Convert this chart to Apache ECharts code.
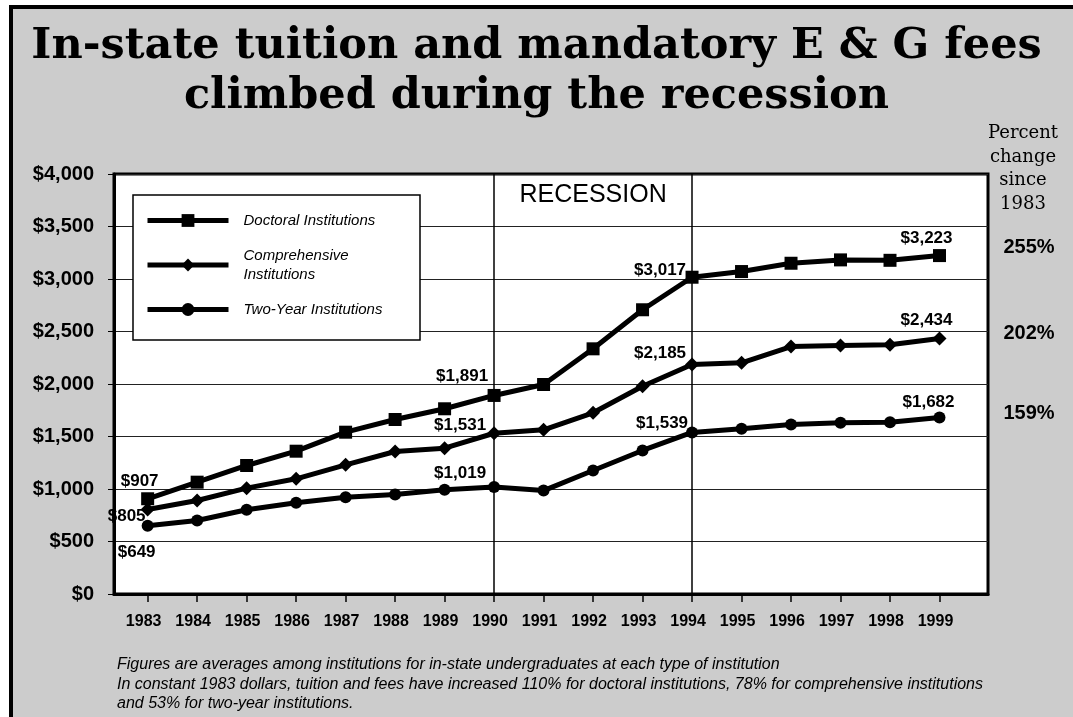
<!DOCTYPE html>
<html>
<head>
<meta charset="utf-8">
<style>
  html, body { margin: 0; padding: 0; background: #fff; }
  #frame { position: absolute; left: 9px; top: 5px; width: 1070px; height: 720px;
           background: #cccccc; border-left: 4px solid #000; border-top: 4px solid #000; }
  #chart { position: absolute; left: 0; top: 0; width: 1073px; height: 717px; }
</style>
<script src="https://cdn.jsdelivr.net/npm/echarts@6/dist/echarts.min.js"></script>
</head>
<body>
<div id="frame"></div>
<div id="chart"></div>
<script>
// Average in-state tuition and mandatory E & G fees, current dollars
const years = [1983, 1984, 1985, 1986, 1987, 1988, 1989, 1990, 1991,
               1992, 1993, 1994, 1995, 1996, 1997, 1998, 1999];
const doctoral      = [907, 1065, 1224, 1360, 1541, 1662, 1764, 1891, 1995,
                       2335, 2707, 3017, 3071, 3150, 3182, 3178, 3223];
const comprehensive = [805, 890, 1008, 1097, 1230, 1357, 1389, 1531, 1564,
                       1726, 1979, 2185, 2202, 2357, 2367, 2373, 2434];
const twoYear       = [649, 700, 802, 869, 922, 948, 992, 1019, 985,
                       1176, 1367, 1539, 1573, 1614, 1630, 1636, 1682];
const seriesNames = ['Doctoral Institutions', 'Comprehensive Institutions', 'Two-Year Institutions'];
const labeledYears = [1983, 1990, 1994, 1999];
const recessionYears = [1990, 1994];
const recessionLabel = 'RECESSION';
const titleText = 'In-state tuition and mandatory E & G fees\nclimbed during the recession';
const sideHeader = 'Percent\nchange\nsince\n1983';
const notes = 'Figures are averages among institutions for in-state undergraduates at each type of institution\n' +
  'In constant 1983 dollars, tuition and fees have increased 110% for doctoral institutions, 78% for comprehensive institutions\n' +
  'and 53% for two-year institutions.';

const SANS = 'Liberation Sans, Arial, sans-serif';
const SERIF = 'DejaVu Serif, serif';

// label placement for the annotated points (relative to a 'top' label)
const labelOffsets = [
  [[-8, 3], [-32, 1], [-32, 13], [-13, 3]],
  [[-21, 27], [-34, 13], [-32, 9], [-13, 2]],
  [[-11, 46], [-34, 6], [-30, 10], [-11, 4]]
];
const endOffsets = [[56, -8], [56, -5], [56, -4]];
const symbols = [['rect', 13], ['diamond', 14], ['circle', 12]];

function money(v) { return '$' + Math.round(v).toLocaleString('en-US'); }

function buildData(values, si) {
  return values.map(function (v, i) {
    const item = { value: [years[i], v] };
    const k = labeledYears.indexOf(years[i]);
    if (k >= 0) {
      item.label = { show: true, position: 'top', offset: labelOffsets[si][k],
                     formatter: money(v) };
    }
    return item;
  });
}

const allValues = [doctoral, comprehensive, twoYear];

const series = allValues.map(function (vals, si) {
  const s = {
    name: seriesNames[si],
    type: 'line',
    data: buildData(vals, si),
    symbol: symbols[si][0],
    symbolSize: symbols[si][1],
    showAllSymbol: true,
    lineStyle: { color: '#000', width: 5 },
    itemStyle: { color: '#000' },
    label: { show: false, color: '#000', fontFamily: SANS, fontWeight: 'bold', fontSize: 17 },
    endLabel: {
      show: true,
      offset: endOffsets[si],
      color: '#000', fontFamily: SANS, fontWeight: 'bold', fontSize: 20,
      formatter: function () {
        const first = vals[0], last = vals[vals.length - 1];
        return Math.round((last - first) / first * 100) + '%';
      }
    },
    z: 5
  };
  if (si === 0) {
    s.markLine = {
      silent: true, symbol: 'none', label: { show: false },
      lineStyle: { color: '#000', width: 1.5, type: 'solid' },
      data: recessionYears.map(function (y) { return { xAxis: y }; }),
      z: 1
    };
    s.markArea = {
      silent: true,
      itemStyle: { color: 'rgba(0,0,0,0)' },
      label: { show: true, position: 'insideTop', distance: 9, color: '#000',
               fontFamily: SANS, fontSize: 25 },
      data: [[{ xAxis: recessionYears[0], name: recessionLabel }, { xAxis: recessionYears[1] }]]
    };
  }
  return s;
});

const chart = echarts.init(document.getElementById('chart'), null, { renderer: 'canvas' });
chart.setOption({
  animation: false,
  backgroundColor: 'transparent',
  title: {
    text: titleText,
    left: 'center', top: 17,
    textStyle: { fontFamily: SERIF, fontWeight: 'bold', fontSize: 43, lineHeight: 50, color: '#000' }
  },
  grid: {
    left: 114, right: 85, top: 174, bottom: 123,
    show: true, backgroundColor: '#fff', borderColor: '#000', borderWidth: 3
  },
  legend: {
    orient: 'vertical', left: 145, top: 211, padding: 0,
    itemWidth: 81, itemHeight: 16, itemGap: 16,
    data: seriesNames,
    lineStyle: { width: 5, color: '#000' },
    itemStyle: { color: '#000' },
    formatter: function (n) { return n.replace('Comprehensive ', 'Comprehensive\n'); },
    textStyle: { fontFamily: SANS, fontStyle: 'italic', fontSize: 15, lineHeight: 19,
                 color: '#000', padding: [0, 0, 0, 10] },
    z: 6
  },
  xAxis: {
    type: 'value', min: 1982.32, max: 1999.98,
    splitLine: { show: false },
    axisLine: { show: true, lineStyle: { color: '#000', width: 3 } },
    axisTick: { show: true, customValues: years, length: 8, lineStyle: { color: '#000', width: 1.5 } },
    axisLabel: { customValues: years, formatter: function (v) { return String(v); },
                 margin: 20, padding: [0, 8, 0, 0],
                 color: '#000', fontFamily: SANS, fontWeight: 'bold', fontSize: 16 }
  },
  yAxis: {
    type: 'value', min: 0, max: 4000, interval: 500,
    splitLine: { show: true, lineStyle: { color: '#222', width: 1 } },
    axisLine: { show: true, lineStyle: { color: '#000', width: 3 } },
    axisTick: { show: true, length: 6, lineStyle: { color: '#000', width: 1 } },
    axisLabel: { formatter: money, margin: 20, padding: [8, 0, 0, 0],
                 color: '#000', fontFamily: SANS, fontWeight: 'bold', fontSize: 20 }
  },
  graphic: [
    { type: 'rect', z: 3, silent: true,
      shape: { x: 133, y: 195, width: 287, height: 145 },
      style: { fill: '#fff', stroke: '#000', lineWidth: 1.5 } },
    { type: 'text', x: 1023, y: 122, silent: true,
      style: { text: sideHeader, align: 'center', verticalAlign: 'top', fill: '#000',
               font: '18px ' + SERIF, lineHeight: 23.5 } },
    { type: 'text', x: 117, y: 655, silent: true,
      style: { text: notes, align: 'left', verticalAlign: 'top', fill: '#000',
               font: 'italic 16px ' + SANS, lineHeight: 19.5 } }
  ],
  series: series
});
</script>
</body>
</html>
